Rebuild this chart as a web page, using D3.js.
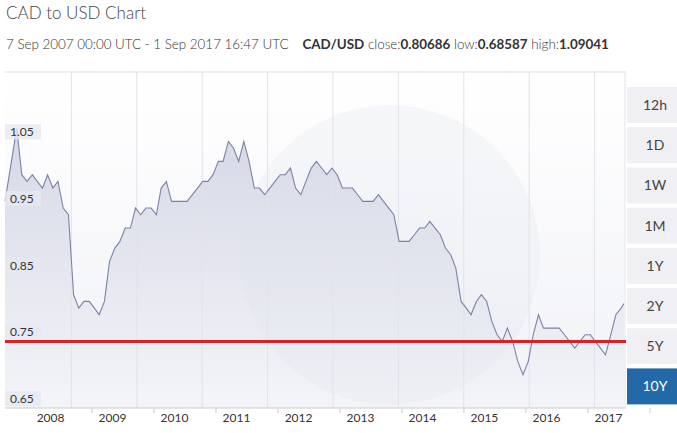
<!DOCTYPE html>
<html lang="en">
  <head>
    <meta charset="UTF-8" />
    <title>CAD to USD Chart</title>
    <script src="https://d3js.org/d3.v7.min.js"></script>
    <style>
      body { margin: 0; background: #fff; }
      text { font-family: Lato, 'Open Sans', sans-serif; }
    </style>
  </head>
  <body>
    <svg width="677" height="433"></svg>
    <script>
      // monthly closes, Sep 2007 .. Sep 2017
      var startDate = new Date(2007, 8, 7)
      var endDate = new Date(2017, 8, 1)
      var rates = [
        0.96, 1.02, 1.07, 1.00,
        0.99, 1.00, 0.99, 0.98, 1.00, 0.98, 0.99, 0.95, 0.94, 0.82, 0.80, 0.81,
        0.81, 0.80, 0.79, 0.81, 0.87, 0.89, 0.90, 0.92, 0.92, 0.95, 0.94, 0.95,
        0.95, 0.94, 0.98, 0.99, 0.96, 0.96, 0.96, 0.96, 0.97, 0.98, 0.99, 0.99,
        1.00, 1.02, 1.02, 1.05, 1.04, 1.02, 1.05, 1.02, 0.98, 0.98, 0.97, 0.98,
        0.99, 1.00, 1.00, 1.01, 0.98, 0.97, 0.99, 1.01, 1.02, 1.01, 1.00, 1.01,
        1.00, 0.98, 0.98, 0.98, 0.97, 0.96, 0.96, 0.96, 0.97, 0.96, 0.95, 0.94,
        0.90, 0.90, 0.90, 0.91, 0.92, 0.92, 0.93, 0.92, 0.91, 0.89, 0.88, 0.86,
        0.81, 0.80, 0.79, 0.81, 0.82, 0.81, 0.78, 0.76, 0.75, 0.77, 0.75, 0.72,
        0.70, 0.72, 0.76, 0.79, 0.77, 0.77, 0.77, 0.77, 0.76, 0.75, 0.74, 0.75,
        0.76, 0.76, 0.75, 0.74, 0.73, 0.76, 0.79, 0.80, 0.807
      ]
      var yTicks = [0.65, 0.75, 0.85, 0.95, 1.05]
      var years = [2008, 2009, 2010, 2011, 2012, 2013, 2014, 2015, 2016, 2017]
      var buttons = ['12h', '1D', '1W', '1M', '1Y', '2Y', '5Y', '10Y']
      var activeButton = '10Y'
      var refLine = 0.75

      var svg = d3.select('svg')
      var plotLeft = 5, plotRight = 624, plotTop = 72, plotBottom = 408

      var dates = rates.map(function(d, i) {
        if (i === 0) return startDate
        if (i === rates.length - 1) return endDate
        return new Date(2007, 8 + i, 15)
      })

      var x = d3.scaleTime().domain([startDate, endDate]).range([plotLeft, plotRight])
      var y = d3.scaleLinear().domain([0.6502, 1.154]).range([plotBottom, plotTop])

      // titles
      svg.append('text').attr('x', 6).attr('y', 19).attr('font-size', 17)
        .attr('fill', '#444').attr('font-weight', 300).text('CAD to USD Chart')
      var sub = svg.append('text').attr('x', 6).attr('y', 49).attr('font-size', 13.4).attr('fill', '#333')
      sub.append('tspan').attr('font-weight', 300).text('7 Sep 2007 00:00 UTC - 1 Sep 2017 16:47 UTC')
      sub.append('tspan').attr('font-weight', 700).attr('dx', 14).text('CAD/USD')
      sub.append('tspan').attr('font-weight', 300).text(' close:')
      sub.append('tspan').attr('font-weight', 700).text('0.80686')
      sub.append('tspan').attr('font-weight', 300).text(' low:')
      sub.append('tspan').attr('font-weight', 700).text('0.68587')
      sub.append('tspan').attr('font-weight', 300).text(' high:')
      sub.append('tspan').attr('font-weight', 700).text('1.09041')

      // background gradient
      var defs = svg.append('defs')
      var grad = defs.append('linearGradient').attr('id', 'bg').attr('x1', 0).attr('x2', 0).attr('y1', 0).attr('y2', 1)
      grad.append('stop').attr('offset', '0%').attr('stop-color', '#ffffff')
      grad.append('stop').attr('offset', '100%').attr('stop-color', '#f1f2f7')
      var agrad = defs.append('linearGradient').attr('id', 'area').attr('x1', 0).attr('x2', 0).attr('y1', 0).attr('y2', 1)
      agrad.append('stop').attr('offset', '0%').attr('stop-color', '#cfd2e2')
      agrad.append('stop').attr('offset', '100%').attr('stop-color', '#f4f5f9')

      svg.append('rect').attr('x', plotLeft).attr('y', plotTop).attr('width', plotRight - plotLeft)
        .attr('height', plotBottom - plotTop).attr('fill', 'url(#bg)')

      svg.append('path').datum(rates)
        .attr('d', d3.area().x(function(d, i) { return x(dates[i]) }).y0(plotBottom).y1(function(d) { return y(d) }))
        .attr('fill', 'url(#area)').attr('opacity', 0.85)

      // watermark
      svg.append('circle').attr('cx', 390).attr('cy', 255).attr('r', 150)
        .attr('fill', '#dfe2ec').attr('opacity', 0.25)

      // vertical grid
      var gx = d3.scaleLinear().domain([0, 10]).range([6, 660])
      svg.selectAll('.grid').data(d3.range(1, 10)).enter().append('line')
        .attr('x1', function(d) { return gx(d) }).attr('x2', function(d) { return gx(d) })
        .attr('y1', plotTop).attr('y2', plotBottom).attr('stroke', '#e2e3ea')
      svg.append('line').attr('x1', plotLeft).attr('x2', plotRight + 2).attr('y1', plotTop).attr('y2', plotTop).attr('stroke', '#dcdde4')
      svg.append('line').attr('x1', plotRight + 1).attr('x2', plotRight + 1).attr('y1', plotTop).attr('y2', plotBottom).attr('stroke', '#e2e3ea')

      svg.append('path').datum(rates)
        .attr('d', d3.line().x(function(d, i) { return x(dates[i]) }).y(function(d) { return y(d) }))
        .attr('fill', 'none').attr('stroke', '#7c82a6').attr('stroke-width', 1.1)

      // y labels
      var yl = svg.selectAll('.yl').data(yTicks).enter().append('g')
      yl.append('rect').attr('x', plotLeft).attr('y', function(d) { return y(d) - 17 })
        .attr('width', 36).attr('height', 15).attr('fill', '#e6e8f1').attr('opacity', 0.8)
      yl.append('text').attr('x', 10).attr('y', function(d) { return y(d) - 5 })
        .attr('font-size', 12).attr('fill', '#333').text(function(d) { return d.toFixed(2) })

      // reference line
      svg.append('line').attr('x1', plotLeft).attr('x2', plotRight + 2)
        .attr('y1', y(refLine)).attr('y2', y(refLine)).attr('stroke', '#dd2026').attr('stroke-width', 3)

      // x axis
      svg.append('line').attr('x1', plotLeft).attr('x2', plotRight + 2).attr('y1', plotBottom).attr('y2', plotBottom).attr('stroke', '#ccc')
      svg.selectAll('.xl').data(years).enter().append('text')
        .attr('x', function(d) { return x(new Date(d, 6, 1)) - 5 })
        .attr('y', 422).attr('text-anchor', 'middle').attr('font-size', 12).attr('fill', '#333')
        .text(function(d) { return d })
      svg.selectAll('.xt').data(years).enter().append('line')
        .attr('x1', function(d) { return x(new Date(d + 1, 1, 1)) }).attr('x2', function(d) { return x(new Date(d + 1, 1, 1)) })
        .attr('y1', plotBottom).attr('y2', plotBottom + 5).attr('stroke', '#ccc')

      // range buttons
      var bg = svg.selectAll('.btn').data(buttons).enter().append('g')
        .attr('transform', function(d, i) { return 'translate(627,' + (87 + i * 40.2) + ')' })
      bg.append('rect').attr('width', 50).attr('height', 36)
        .attr('fill', function(d) { return d === activeButton ? '#2369a7' : '#f0f0f4' })
      bg.append('text').attr('x', 28).attr('y', 23).attr('text-anchor', 'middle').attr('font-size', 14)
        .attr('fill', function(d) { return d === activeButton ? '#fff' : '#444' })
        .text(function(d) { return d })
    </script>
  </body>
</html>
